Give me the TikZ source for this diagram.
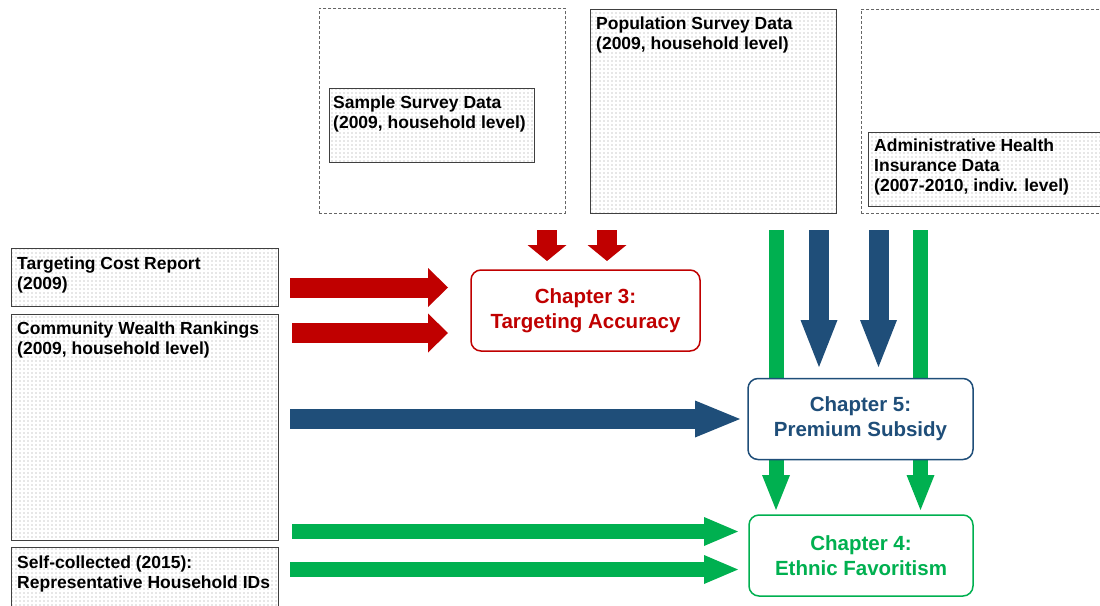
\documentclass[tikz,border=0pt]{standalone}
\usepackage{fontspec}
\setmainfont{Liberation Sans}
\usetikzlibrary{arrows.meta,patterns.meta}
\definecolor{cred}{HTML}{C00000}
\definecolor{cblue}{HTML}{1F4E79}
\definecolor{cgreen}{HTML}{00B050}
\definecolor{cborder}{HTML}{404040}
\tikzdeclarepattern{
  name=sdots,
  type=uncolored,
  bottom left={(-1pt,-1pt)},
  top right={(3pt,3pt)},
  tile size={(4pt,4pt)},
  code={\fill (0pt,0pt) circle (0.55pt);}
}
\tikzset{
  dashbox/.style={draw=black!60, line width=0.8pt, dash pattern=on 3pt off 2pt, anchor=north west, inner sep=0pt},
  dotbox/.style={draw=cborder, line width=1pt, pattern=sdots, pattern color=black!40, anchor=north west, inner sep=0pt},
  srctext/.style={anchor=north west, inner sep=0pt, align=left, font=\fontsize{17.5}{20}\selectfont\bfseries},
  chbox/.style={draw=#1, text=#1, fill=white, rounded corners=10pt, line width=1.5pt, minimum width=226pt, minimum height=81pt, align=center, font=\fontsize{20.5}{25}\selectfont\bfseries},
  blk/.style n args={4}{draw=#1, line width=#2, -{Triangle[length=#3, width=#4, line width=0pt]}}
}
\begin{document}
\begin{tikzpicture}[x=1pt,y=-1pt]
\useasboundingbox (0,0) rectangle (1100,605);
\fill[white] (0,0) rectangle (1100,605);

% top sources
\node[dashbox, minimum width=246pt, minimum height=205pt] (sampleout) at (319,8) {};
\node[dotbox, minimum width=205pt, minimum height=74pt] (sample) at (329,88) {};
\node[srctext] (sampletxt) at ([shift={(4pt,-8pt)}]sample.north west) {Sample Survey Data\\(2009, household level)};

\node[dotbox, minimum width=246pt, minimum height=204pt] (pop) at (590,9) {};
\node[srctext] (poptxt) at ([shift={(6pt,-8pt)}]pop.north west) {Population Survey Data\\(2009, household level)};

\node[dashbox, minimum width=242pt, minimum height=204pt] (adminout) at (861,9) {};
\node[dotbox, minimum width=236pt, minimum height=74pt] (admin) at (868,132) {};
\node[srctext] (admintxt) at ([shift={(6pt,-7pt)}]admin.north west) {Administrative Health\\Insurance Data\\(2007-2010, indiv. level)};

% left sources
\node[dotbox, minimum width=267pt, minimum height=58pt] (tcr) at (11,248) {};
\node[srctext] (tcrtxt) at ([shift={(6pt,-9pt)}]tcr.north west) {Targeting Cost Report\\(2009)};

\node[dotbox, minimum width=267pt, minimum height=226pt] (cwr) at (11,314) {};
\node[srctext] (cwrtxt) at ([shift={(6pt,-8pt)}]cwr.north west) {Community Wealth Rankings\\(2009, household level)};

\node[dotbox, minimum width=267pt, minimum height=64pt] (self) at (11,547) {};
\node[srctext] (selftxt) at ([shift={(6pt,-9pt)}]self.north west) {Self-collected (2015):\\Representative Household IDs};

% coordinates for arrows
\coordinate (r1a) at (290,287.5); \coordinate (r1b) at (448,287.5);
\coordinate (r2a) at (292,333);   \coordinate (r2b) at (448,333);
\coordinate (rd1a) at (547,230);  \coordinate (rd1b) at (547,261);
\coordinate (rd2a) at (607,230);  \coordinate (rd2b) at (607,261);
\coordinate (bha) at (290,419);   \coordinate (bhb) at (740,419);
\coordinate (bd1a) at (819,230);  \coordinate (bd1b) at (819,367);
\coordinate (bd2a) at (878.5,230);\coordinate (bd2b) at (878.5,367);
\coordinate (gv1a) at (776,230);  \coordinate (gv1b) at (776,510);
\coordinate (gv2a) at (920.5,230);\coordinate (gv2b) at (920.5,510);
\coordinate (gh1a) at (292,531.5);\coordinate (gh1b) at (738,531.5);
\coordinate (gh2a) at (290,569.5);\coordinate (gh2b) at (738,569.5);

\draw[blk={cred}{20pt}{20pt}{39pt}] (r1a) -- (r1b);
\draw[blk={cred}{20pt}{20pt}{39pt}] (r2a) -- (r2b);
\draw[blk={cred}{20pt}{16pt}{39pt}] (rd1a) -- (rd1b);
\draw[blk={cred}{20pt}{16pt}{39pt}] (rd2a) -- (rd2b);
\draw[blk={cgreen}{15pt}{35pt}{28pt}] (gv1a) -- (gv1b);
\draw[blk={cgreen}{15pt}{35pt}{28pt}] (gv2a) -- (gv2b);
\draw[blk={cblue}{20pt}{47pt}{37pt}] (bd1a) -- (bd1b);
\draw[blk={cblue}{20pt}{47pt}{37pt}] (bd2a) -- (bd2b);
\draw[blk={cblue}{20pt}{45pt}{37pt}] (bha) -- (bhb);
\draw[blk={cgreen}{15pt}{34pt}{29pt}] (gh1a) -- (gh1b);
\draw[blk={cgreen}{15pt}{34pt}{29pt}] (gh2a) -- (gh2b);

% chapters
\node[chbox=cred, minimum width=229pt] (ch3) at (585.5,310.5) {Chapter 3:\\Targeting Accuracy};
\node[chbox=cblue, minimum width=225pt] (ch5) at (860.5,419) {Chapter 5:\\Premium Subsidy};
\node[chbox=cgreen, minimum width=224pt] (ch4) at (861,555.5) {Chapter 4:\\Ethnic Favoritism};
\end{tikzpicture}
\end{document}
